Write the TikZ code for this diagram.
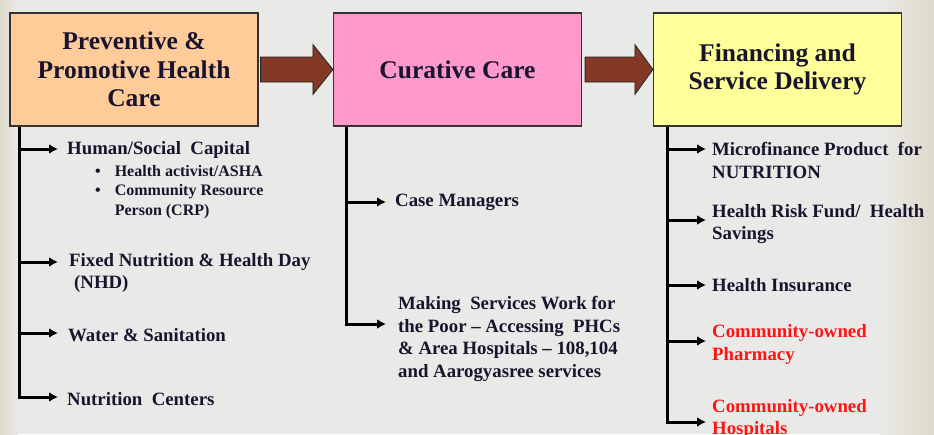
\documentclass[tikz,border=0pt]{standalone}
\usepackage{fontspec}
\setmainfont{Liberation Serif}
\usepackage{tikz}
\usetikzlibrary{positioning, arrows.meta, calc}
\usepackage{xcolor}

\definecolor{bggray}{RGB}{233,233,231}
\definecolor{bgbeige}{RGB}{221,218,202}
\definecolor{peach}{RGB}{255,204,153}
\definecolor{pinkbox}{RGB}{255,153,204}
\definecolor{yellowbox}{RGB}{255,255,153}
\definecolor{arrowbrown}{RGB}{132,56,38}
\definecolor{inkdark}{RGB}{25,20,45}
\definecolor{inkred}{RGB}{255,20,20}

\begin{document}
\begin{tikzpicture}[
    x=1pt, y=-1pt,
    headbox/.style={draw=black!80, line width=1.2pt, minimum width=248pt, minimum height=113pt,
        inner sep=0pt, align=center, text=inkdark, font=\fontsize{25.5}{28.5}\selectfont\bfseries},
    blockarrow/.style={fill=arrowbrown, draw=black!85, line width=0.8pt},
    spine/.style={line width=3pt, -{Latex[length=9pt,width=10pt]}},
    item/.style={anchor=west, inner sep=0pt, align=left, text=inkdark, font=\fontsize{18.8}{22.5}\selectfont\bfseries},
    subitem/.style={anchor=west, inner sep=0pt, align=left, text=inkdark, font=\fontsize{16}{19.5}\selectfont\bfseries},
    reditem/.style={item, text=inkred}
]
    % Slide background with beige edges
    \useasboundingbox (0,0) rectangle (934,434);
    \clip (0,0) rectangle (934,434);
    \fill[bggray] (0,0) rectangle (934,434);
    \shade[left color=bgbeige, right color=bggray] (0,0) rectangle (18,434);
    \shade[left color=bggray, right color=bgbeige] (880,0) rectangle (934,434);

    % Three headline boxes
    \node[headbox, fill=peach] (prev) at (134,69.5) {Preventive \&\\Promotive Health\\Care};
    \node[headbox, fill=pinkbox] (cur) at (457.5,69.5) {Curative Care};
    \node[headbox, fill=yellowbox] (fin) at (777.5,69.5) {Financing and\\Service Delivery};

    % Block arrows between the boxes
    \draw[blockarrow] ([xshift=2pt,yshift=12.5pt]prev.east) -- ([xshift=-20pt,yshift=12.5pt]cur.west)
        -- ([xshift=-20pt,yshift=25pt]cur.west) -- (cur.west) -- ([xshift=-20pt,yshift=-25pt]cur.west)
        -- ([xshift=-20pt,yshift=-12.5pt]cur.west) -- ([xshift=2pt,yshift=-12.5pt]prev.east) -- cycle;
    \draw[blockarrow] ([xshift=3pt,yshift=12.5pt]cur.east) -- ([xshift=-18pt,yshift=12.5pt]fin.west)
        -- ([xshift=-18pt,yshift=25pt]fin.west) -- (fin.west) -- ([xshift=-18pt,yshift=-25pt]fin.west)
        -- ([xshift=-18pt,yshift=-12.5pt]fin.west) -- ([xshift=3pt,yshift=-12.5pt]cur.east) -- cycle;

    % Left column
    \coordinate (ltop) at ([xshift=10pt]prev.south west);
    \coordinate (l1) at (58,149);
    \coordinate (l2) at (58,262);
    \coordinate (l3) at (58,333);
    \coordinate (l4) at (58,397);
    \node[item] (human) at (67,150) {Human/Social~ Capital};
    \node[subitem] (asha) at (95,192) {%
        \begin{tabular}{@{}l@{\hspace{14pt}}l@{}}
        \textbullet & Health activist/ASHA\\
        \textbullet & Community Resource\\
                    & Person (CRP)
        \end{tabular}};
    \node[item] (nhd) at (69,273) {Fixed Nutrition \& Health Day\\\hspace{5pt}(NHD)};
    \node[item] (water) at (68,335) {Water \& Sanitation};
    \node[item] (nutri) at (67,399) {Nutrition~ Centers};
    \draw[spine] (ltop) |- (l4);
    \foreach \p in {l1,l2,l3}
        \draw[spine] (ltop |- \p) -- (\p);

    % Middle column
    \coordinate (mtop) at ([xshift=14pt]cur.south west);
    \coordinate (m1) at (386,202);
    \coordinate (m2) at (386,324);
    \node[item] (case) at (395,202) {Case Managers};
    \node[item] (making) at (398,339) {Making~ Services Work for\\the Poor -- Accessing~ PHCs\\\& Area Hospitals -- 108,104\\and Aarogyasree services};
    \draw[spine] (mtop) |- (m2);
    \draw[spine] (mtop |- m1) -- (m1);

    % Right column
    \coordinate (rtop) at ([xshift=15pt]fin.south west);
    \coordinate (r1) at (706,149);
    \coordinate (r2) at (706,220);
    \coordinate (r3) at (706,285);
    \coordinate (r4) at (706,341);
    \coordinate (r5) at (706,422);
    \node[item] (micro) at (712,160.5) {Microfinance Product~ for\\NUTRITION};
    \node[item] (risk) at (712,224) {Health Risk Fund/~ Health\\Savings};
    \node[item] (insur) at (712,285) {Health Insurance};
    \node[reditem] (pharm) at (712,344.5) {Community-owned\\Pharmacy};
    \node[reditem] (hosp) at (712,419) {Community-owned\\Hospitals};
    \draw[spine] (rtop) |- (r5);
    \foreach \p in {r1,r2,r3,r4}
        \draw[spine] (rtop |- \p) -- (\p);
\end{tikzpicture}
\end{document}
